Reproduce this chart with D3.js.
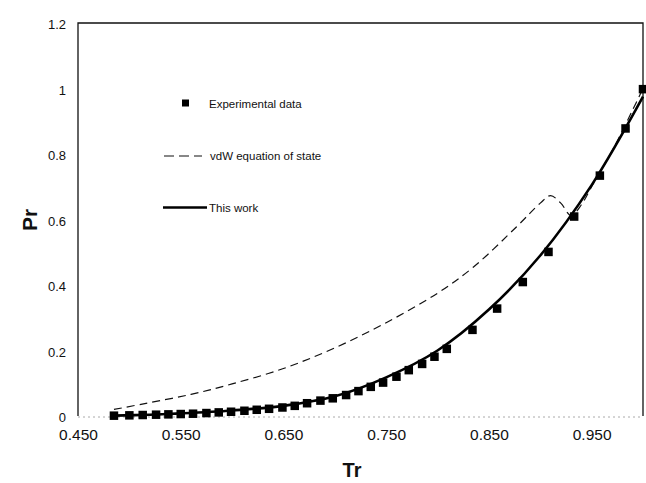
<!DOCTYPE html>
<html>
<head>
<meta charset="utf-8">
<script src="https://cdn.jsdelivr.net/npm/d3@7"></script>
<style>
  body { margin: 0; background: #fff; }
  text { font-family: "Liberation Sans", Arial, sans-serif; fill: #111; }
</style>
</head>
<body>
<script>
// experimental points (Tr, Pr)
var expTr = [0.485, 0.500, 0.513, 0.526, 0.538, 0.550, 0.562, 0.575, 0.587, 0.599,
             0.612, 0.624, 0.636, 0.649, 0.661, 0.673, 0.686, 0.698, 0.711, 0.723,
             0.735, 0.747, 0.760, 0.772, 0.785, 0.797, 0.809, 0.834, 0.858, 0.883,
             0.908, 0.933, 0.958, 0.983, 1.000];
var expPr = [0.001, 0.002, 0.003, 0.004, 0.005, 0.006, 0.007, 0.009, 0.011, 0.013,
             0.016, 0.019, 0.022, 0.026, 0.031, 0.039, 0.047, 0.054, 0.064, 0.076,
             0.089, 0.102, 0.120, 0.140, 0.159, 0.181, 0.205, 0.263, 0.328, 0.409,
             0.501, 0.609, 0.734, 0.878, 0.998];

// vdW equation of state (dashed)
var vdwTr = [0.485, 0.515, 0.560, 0.600, 0.650, 0.700, 0.750, 0.800, 0.835, 0.877,
             0.900, 0.910, 0.920, 0.930, 0.940, 0.950, 0.970, 0.990, 1.000];
var vdwPr = [0.020, 0.038, 0.066, 0.098, 0.145, 0.208, 0.285, 0.375, 0.455, 0.578,
             0.650, 0.673, 0.650, 0.612, 0.645, 0.700, 0.810, 0.935, 1.000];

// this work (solid)
var workTr = [0.485, 0.520, 0.550, 0.600, 0.650, 0.700, 0.750, 0.800, 0.850, 0.900, 0.950, 1.000];
var workPr = [0.001, 0.004, 0.008, 0.017, 0.031, 0.060, 0.118, 0.200, 0.325, 0.490, 0.705, 0.975];

var xTicks = [0.45, 0.55, 0.65, 0.75, 0.85, 0.95];
var yTicks = [0, 0.2, 0.4, 0.6, 0.8, 1.0, 1.2];

var w = 646, h = 483;
var svg = d3.select("body").append("svg")
    .attr("width", w)
    .attr("height", h);

var x = d3.scaleLinear().domain([0.45, 1.0]).range([78, 643]);
var y = d3.scaleLinear().domain([0, 1.2]).range([416, 23]);

// frame: left, top, right solid; bottom faint dotted
svg.append("path")
    .attr("d", "M" + x(0.45) + "," + y(0) + "V" + y(1.2) + "H" + x(1.0) + "V" + y(0))
    .attr("fill", "none")
    .attr("stroke", "#111")
    .attr("stroke-width", 1.3);
svg.append("line")
    .attr("x1", x(0.45)).attr("x2", x(1.0))
    .attr("y1", y(0) + 1).attr("y2", y(0) + 1)
    .attr("stroke", "#aaa")
    .attr("stroke-width", 1)
    .attr("stroke-dasharray", "2,3");

// axes (labels only)
var xAxis = svg.append("g")
    .attr("transform", "translate(0," + y(0) + ")")
    .call(d3.axisBottom(x).tickValues(xTicks).tickSize(0).tickPadding(13)
        .tickFormat(d3.format(".3f")));
xAxis.select(".domain").remove();
xAxis.selectAll("text")
    .style("font-size", "15.5px")
    .style("font-family", "Liberation Sans, Arial, sans-serif")
    .attr("fill", "#222");

var yAxis = svg.append("g")
    .attr("transform", "translate(66,0)")
    .call(d3.axisLeft(y).tickValues(yTicks).tickSize(0).tickPadding(0)
        .tickFormat(function(d){ return String(+d.toFixed(1)); }));
yAxis.select(".domain").remove();
yAxis.selectAll("text")
    .style("font-size", "13px")
    .style("font-family", "Liberation Sans, Arial, sans-serif")
    .attr("fill", "#222")
    .attr("dy", "0.45em");

// axis titles
svg.append("text")
    .attr("x", 352).attr("y", 477)
    .attr("text-anchor", "middle")
    .style("font-size", "20px")
    .style("font-weight", "bold")
    .text("Tr");
svg.append("text")
    .attr("transform", "translate(37,220) rotate(-90)")
    .attr("text-anchor", "middle")
    .style("font-size", "21px")
    .style("font-weight", "bold")
    .text("Pr");

// curves
var vdwData = vdwTr.map(function(t, i){ return [t, vdwPr[i]]; });
var workData = workTr.map(function(t, i){ return [t, workPr[i]]; });
var expData = expTr.map(function(t, i){ return [t, expPr[i]]; });

var line = d3.line()
    .x(function(d){ return x(d[0]); })
    .y(function(d){ return y(d[1]); })
    .curve(d3.curveCatmullRom.alpha(0.5));

svg.append("path")
    .datum(vdwData)
    .attr("d", line)
    .attr("fill", "none")
    .attr("stroke", "#111")
    .attr("stroke-width", 1.2)
    .attr("stroke-dasharray", "8,5");

svg.append("path")
    .datum(workData)
    .attr("d", line)
    .attr("fill", "none")
    .attr("stroke", "#000")
    .attr("stroke-width", 2.6);

var sq = 8.5;
svg.selectAll(".pt")
    .data(expData)
    .enter()
    .append("rect")
    .attr("class", "pt")
    .attr("x", function(d){ return x(d[0]) - sq / 2; })
    .attr("y", function(d){ return y(d[1]) - sq / 2; })
    .attr("width", sq)
    .attr("height", sq)
    .attr("fill", "#000");

// legend
var leg = svg.append("g").attr("class", "legend");
leg.append("rect")
    .attr("x", 182).attr("y", 99.5)
    .attr("width", 7).attr("height", 7)
    .attr("fill", "#000");
leg.append("text")
    .attr("x", 209).attr("y", 107.5)
    .style("font-size", "11.5px")
    .text("Experimental data");

leg.append("line")
    .attr("x1", 164).attr("x2", 202)
    .attr("y1", 156).attr("y2", 156)
    .attr("stroke", "#111")
    .attr("stroke-width", 1.2)
    .attr("stroke-dasharray", "10,5");
leg.append("text")
    .attr("x", 210).attr("y", 160)
    .style("font-size", "11.5px")
    .text("vdW equation of state");

leg.append("line")
    .attr("x1", 163).attr("x2", 207)
    .attr("y1", 207.5).attr("y2", 207.5)
    .attr("stroke", "#000")
    .attr("stroke-width", 2.6);
leg.append("text")
    .attr("x", 209).attr("y", 211.5)
    .style("font-size", "11.5px")
    .text("This work");
</script>
</body>
</html>
